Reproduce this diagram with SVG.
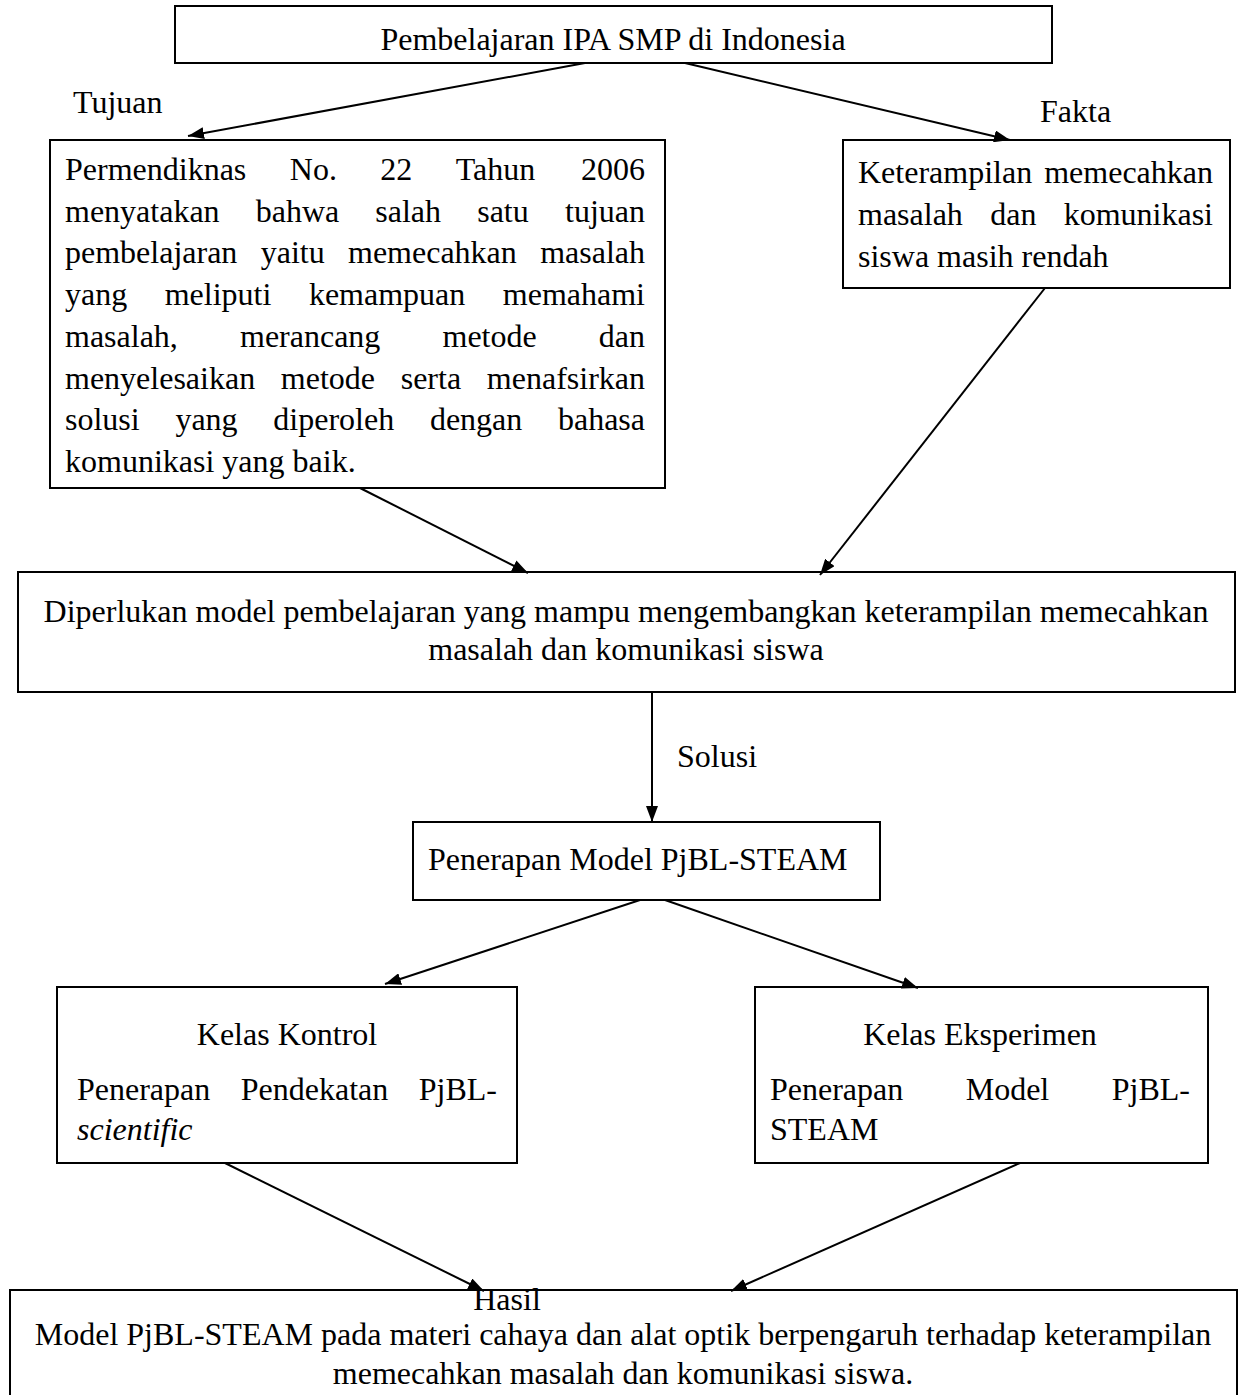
<svg xmlns="http://www.w3.org/2000/svg" width="1246" height="1395" viewBox="0 0 1246 1395">
<style>
text{font-family:"Liberation Serif","Times New Roman",serif;font-size:32px;fill:#000}
.box{fill:#fff;stroke:#000;stroke-width:2}
.c{text-anchor:middle}
.e{text-anchor:end}
.conn line{stroke:#000;stroke-width:2}
</style>
<defs>
<marker id="ah" viewBox="0 0 16 12" refX="16" refY="6" markerWidth="16" markerHeight="12" markerUnits="userSpaceOnUse" orient="auto">
<path d="M0,0 L16,6 L0,12 z" fill="#000"/>
</marker>
</defs>
<rect width="1246" height="1395" fill="#fff"/>

<g id="n-top">
<rect class="box" x="175" y="6" width="877" height="57"/>
<text class="c" x="613" y="50">Pembelajaran IPA SMP di Indonesia</text>
</g>

<g id="n-tujuan">
<rect class="box" x="50" y="140" width="615" height="348"/>
<text x="65" y="180">Permendiknas</text><text x="289.8" y="180">No.</text><text x="380.3" y="180">22</text><text x="455.8" y="180">Tahun</text><text class="e" x="645" y="180">2006</text>
<text x="65" y="221.7">menyatakan</text><text x="255.7" y="221.7">bahwa</text><text x="375.3" y="221.7">salah</text><text x="477.2" y="221.7">satu</text><text class="e" x="645" y="221.7">tujuan</text>
<text x="65" y="263.4">pembelajaran</text><text x="260.7" y="263.4">yaitu</text><text x="348" y="263.4">memecahkan</text><text class="e" x="645" y="263.4">masalah</text>
<text x="65" y="305.1">yang</text><text x="164.7" y="305.1">meliputi</text><text x="308.9" y="305.1">kemampuan</text><text class="e" x="645" y="305.1">memahami</text>
<text x="65" y="346.8">masalah,</text><text x="240" y="346.8">merancang</text><text x="442.5" y="346.8">metode</text><text class="e" x="645" y="346.8">dan</text>
<text x="65" y="388.5">menyelesaikan</text><text x="280.8" y="388.5">metode</text><text x="400.7" y="388.5">serta</text><text class="e" x="645" y="388.5">menafsirkan</text>
<text x="65" y="430.2">solusi</text><text x="175.4" y="430.2">yang</text><text x="273.3" y="430.2">diperoleh</text><text x="429.9" y="430.2">dengan</text><text class="e" x="645" y="430.2">bahasa</text>
<text x="65" y="472">komunikasi yang baik.</text>
</g>

<g id="n-fakta">
<rect class="box" x="843" y="140" width="387" height="148"/>
<text x="858" y="183">Keterampilan</text><text class="e" x="1213" y="183">memecahkan</text>
<text x="858" y="225">masalah</text><text x="990.2" y="225">dan</text><text class="e" x="1213" y="225">komunikasi</text>
<text x="858" y="267">siswa masih rendah</text>
</g>

<g id="n-need">
<rect class="box" x="18" y="572" width="1217" height="120"/>
<text class="c" x="626" y="622">Diperlukan model pembelajaran yang mampu mengembangkan keterampilan memecahkan</text>
<text class="c" x="626" y="660">masalah dan komunikasi siswa</text>
</g>

<g id="n-pjbl">
<rect class="box" x="413" y="822" width="467" height="78"/>
<text x="428" y="870">Penerapan Model PjBL-STEAM</text>
</g>

<g id="n-kontrol">
<rect class="box" x="57" y="987" width="460" height="176"/>
<text class="c" x="287" y="1045">Kelas Kontrol</text>
<text x="77" y="1100">Penerapan</text><text x="240.8" y="1100">Pendekatan</text><text class="e" x="497" y="1100">PjBL-</text>
<text x="77" y="1140" font-style="italic">scientific</text>
</g>

<g id="n-eksperimen">
<rect class="box" x="755" y="987" width="453" height="176"/>
<text class="c" x="980" y="1045">Kelas Eksperimen</text>
<text x="770" y="1100">Penerapan</text><text x="965.7" y="1100">Model</text><text class="e" x="1190" y="1100">PjBL-</text>
<text x="770" y="1140">STEAM</text>
</g>

<g id="n-hasil">
<rect class="box" x="10" y="1290" width="1227" height="120"/>
<text class="c" x="623" y="1345">Model PjBL-STEAM pada materi cahaya dan alat optik berpengaruh terhadap keterampilan</text>
<text class="c" x="623" y="1384">memecahkan masalah dan komunikasi siswa.</text>
</g>

<g id="connectors" class="conn">
<line x1="585" y1="63" x2="188" y2="136" marker-end="url(#ah)"/>
<line x1="685" y1="63" x2="1010" y2="140" marker-end="url(#ah)"/>
<line x1="360" y1="488" x2="528" y2="573" marker-end="url(#ah)"/>
<line x1="1045" y1="288" x2="820" y2="575" marker-end="url(#ah)"/>
<line x1="652" y1="692" x2="652" y2="822" marker-end="url(#ah)"/>
<line x1="640" y1="900" x2="385" y2="984" marker-end="url(#ah)"/>
<line x1="665" y1="900" x2="918" y2="988" marker-end="url(#ah)"/>
<line x1="225" y1="1163" x2="484" y2="1291" marker-end="url(#ah)"/>
<line x1="1020" y1="1163" x2="731" y2="1291" marker-end="url(#ah)"/>
</g>

<g id="labels">
<text x="73" y="113">Tujuan</text>
<text x="1040" y="122">Fakta</text>
<text x="677" y="767">Solusi</text>
<text class="c" x="507" y="1310">Hasil</text>
</g>
</svg>
